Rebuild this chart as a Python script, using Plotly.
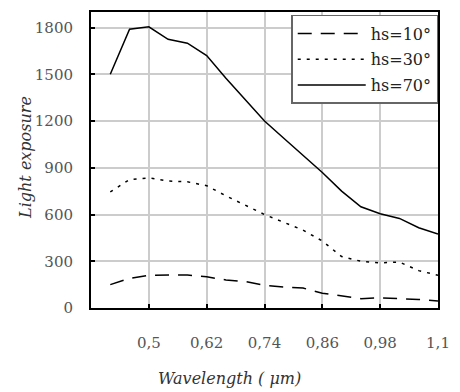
import plotly.graph_objects as go

wavelength = [0.42, 0.46, 0.50, 0.54, 0.58, 0.62, 0.66, 0.70, 0.74, 0.78, 0.82, 0.86, 0.90, 0.94, 0.98, 1.02, 1.06, 1.10]
hs10 = [150, 190, 210, 212, 212, 200, 180, 170, 145, 135, 128, 95, 78, 60, 65, 60, 55, 45]
hs30 = [745, 825, 835, 815, 810, 785, 720, 660, 600, 550, 500, 430, 330, 300, 290, 295, 240, 210]
hs70 = [1500, 1790, 1805, 1725, 1700, 1620, 1475, 1340, 1200, 1090, 980, 870, 750, 650, 605, 575, 515, 475]

x_ticks = [0.5, 0.62, 0.74, 0.86, 0.98, 1.1]
x_ticktext = ["0,5", "0,62", "0,74", "0,86", "0,98", "1,1"]
y_ticks = [0, 300, 600, 900, 1200, 1500, 1800]

series = [
    ("hs=10°", hs10, "14px,9px"),
    ("hs=30°", hs30, "3px,6px"),
    ("hs=70°", hs70, "solid"),
]

fig = go.Figure()
for i, (name, vals, dash) in enumerate(series):
    fig.add_trace(go.Scatter(
        x=wavelength, y=vals, mode="lines", name=name,
        legendgroup=str(i),
        line=dict(color="black", width=1.5, dash=dash),
    ))

serif = "DejaVu Serif"

W, H = 460, 392
l, r, t, b = 91, 12, 10, 84
pw, ph = W - l - r, H - t - b

fig.update_layout(
    width=W, height=H,
    margin=dict(l=l, r=r, t=t, b=b),
    paper_bgcolor="white", plot_bgcolor="white",
    font=dict(family=serif, size=14, color="#333"),
    showlegend=True,
    legend=dict(
        x=(297 - l) / pw, y=(H - b - 13) / ph, xanchor="left", yanchor="top",
        bgcolor="white", bordercolor="#666", borderwidth=1.5,
        font=dict(family=serif, size=16, color="#222"),
        tracegroupgap=2, itemwidth=68,
    ),
    xaxis=dict(
        range=[0.38, 1.1], tickvals=x_ticks, ticktext=x_ticktext,
        showgrid=True, gridcolor="#cccccc", gridwidth=2,
        showline=True, linecolor="black", linewidth=2, mirror=True,
        ticks="inside", ticklen=4, tickcolor="black", tickwidth=1.5,
        ticklabelstandoff=20, zeroline=False,
        tickfont=dict(family=serif, size=15, color="#555"),
    ),
    yaxis=dict(
        range=[0, 1900], tickvals=y_ticks,
        showgrid=True, gridcolor="#cccccc", gridwidth=2,
        showline=True, linecolor="black", linewidth=2, mirror=True,
        ticks="inside", ticklen=4, tickcolor="black", tickwidth=1.5,
        ticklabelstandoff=13, zeroline=False,
        tickfont=dict(family=serif, size=15, color="#555"),
    ),
)
fig.add_annotation(text="<i>Wavelength ( μm)</i>",
                   x=(233 - l) / pw, y=(H - b - 379) / ph, xref="paper", yref="paper",
                   xanchor="center", yanchor="middle", showarrow=False,
                   font=dict(family=serif, size=16, color="#333"))
fig.add_annotation(text="<i>Light exposure</i>",
                   x=(23 - l) / pw, y=(H - b - 156) / ph, xref="paper", yref="paper",
                   xanchor="center", yanchor="middle", showarrow=False, textangle=-90,
                   font=dict(family=serif, size=16, color="#333"))

fig.write_html("out.html")
